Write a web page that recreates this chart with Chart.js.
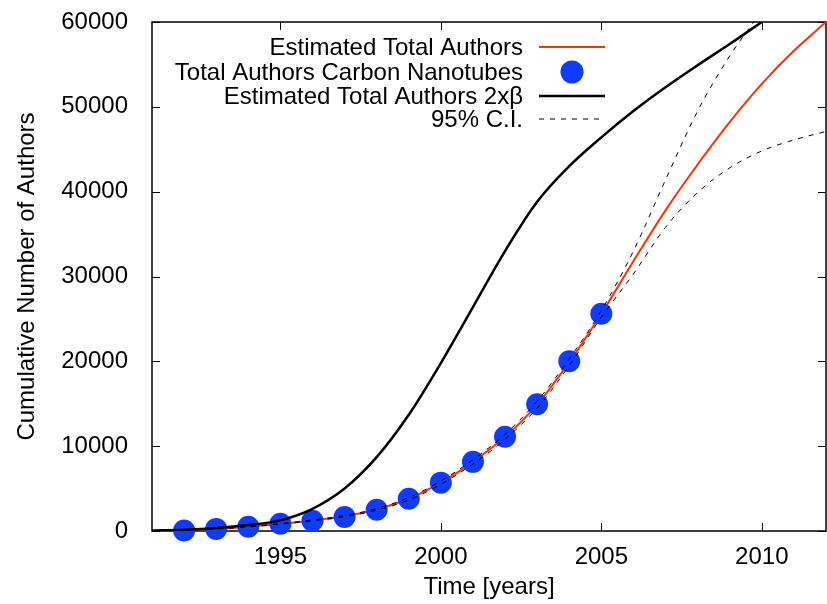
<!DOCTYPE html>
<html>
<head>
<meta charset="utf-8">
<script src="https://cdn.jsdelivr.net/npm/chart.js@4"></script>
<style>
    body { margin: 0; background: #fff; }
    #wrap { width: 827px; height: 604px; }
</style>
</head>
<body>
<div id="wrap"><canvas id="authorsChart" width="827" height="604"></canvas></div>
<script>
// observed data
const years = [1992, 1993, 1994, 1995, 1996, 1997, 1998, 1999, 2000, 2001, 2002, 2003, 2004, 2005];
const authorCounts = [50, 250, 500, 850, 1200, 1650, 2500, 3800, 5700, 8150, 11100, 14950, 20000, 25600];

// fitted curves (one value per year)
const curveYears = [1991, 1992, 1993, 1994, 1995, 1996, 1997, 1998, 1999, 2000, 2001,
                    2002, 2003, 2004, 2005, 2006, 2007, 2008, 2009, 2010, 2011, 2012];
const estimated = [0, 100, 250, 500, 850, 1250, 1750, 2550, 3800, 5700, 8150,
                   11100, 14900, 19900, 25600, 31800, 37800, 43200, 48200, 52700, 56600, 60000];
const estimated2xBeta = [50, 150, 350, 700, 1250, 2600, 5000, 8700, 13700, 19800, 26400,
                         33000, 38800, 43000, 46400, 49500, 52300, 54900, 57400, 60000];
const ciUpper = [0, 100, 260, 520, 880, 1300, 1820, 2650, 3950, 5900, 8400,
                 11400, 15300, 20300, 26000, 33000, 41400, 49500, 56000, 61300];
const ciLower = [0, 100, 240, 480, 820, 1200, 1680, 2450, 3650, 5500, 7900,
                 10800, 14500, 19500, 25200, 30300, 35800, 39900, 42800, 44800, 46100, 47100];

const xTickYears = [1995, 2000, 2005, 2010];
const yTickValues = [0, 10000, 20000, 30000, 40000, 50000, 60000];
const legendLabels = ['Estimated Total Authors', 'Total Authors Carbon Nanotubes',
                      'Estimated Total Authors 2x\u03b2', '95% C.I.'];

const RED = '#ff3000';
const BLUE = '#0f3bff';
const FONT = '"Liberation Sans", Arial, Helvetica, sans-serif';

function toPoints(xs, ys) {
    return ys.map((y, i) => ({ x: xs[i], y: y }));
}

// gnuplot style frame with inward ticks on all four sides
const framePlugin = {
    id: 'frame',
    beforeDatasetsDraw(chart) {
        const { ctx, chartArea: a, scales } = chart;
        ctx.save();
        ctx.strokeStyle = '#000';
        ctx.lineWidth = 1;
        const len = 8;
        xTickYears.forEach(v => {
            const px = Math.round(scales.x.getPixelForValue(v)) + 0.5;
            ctx.beginPath();
            ctx.moveTo(px, a.bottom); ctx.lineTo(px, a.bottom - len);
            ctx.moveTo(px, a.top); ctx.lineTo(px, a.top + len);
            ctx.stroke();
        });
        yTickValues.forEach(v => {
            const py = Math.round(scales.y.getPixelForValue(v)) + 0.5;
            ctx.beginPath();
            ctx.moveTo(a.left, py); ctx.lineTo(a.left + len, py);
            ctx.moveTo(a.right, py); ctx.lineTo(a.right - len, py);
            ctx.stroke();
        });
        ctx.lineWidth = 1.5;
        ctx.strokeRect(a.left, a.top, a.right - a.left, a.bottom - a.top);
        ctx.restore();
    }
};

// key in the upper right: text right aligned, sample to its right
const keyPlugin = {
    id: 'key',
    afterDatasetsDraw(chart) {
        const ctx = chart.ctx;
        const textRight = 523;
        const x1 = 539, x2 = 605;
        const rows = [47, 72, 96, 119];
        ctx.save();
        ctx.font = '24px ' + FONT;
        ctx.fillStyle = '#000';
        ctx.textAlign = 'right';
        ctx.textBaseline = 'middle';
        legendLabels.forEach((t, i) => ctx.fillText(t, textRight, rows[i] + 1));

        ctx.lineWidth = 2;
        ctx.strokeStyle = RED;
        ctx.beginPath(); ctx.moveTo(x1, rows[0]); ctx.lineTo(x2, rows[0]); ctx.stroke();

        ctx.fillStyle = BLUE;
        ctx.beginPath(); ctx.arc((x1 + x2) / 2, rows[1], 11.5, 0, Math.PI * 2); ctx.fill();

        ctx.lineWidth = 2.5;
        ctx.strokeStyle = '#000';
        ctx.beginPath(); ctx.moveTo(x1, rows[2]); ctx.lineTo(x2, rows[2]); ctx.stroke();

        ctx.lineWidth = 1;
        ctx.setLineDash([5, 6]);
        ctx.beginPath(); ctx.moveTo(x1, rows[3]); ctx.lineTo(x2, rows[3]); ctx.stroke();
        ctx.restore();
    }
};

const lineDefaults = {
    type: 'line',
    pointRadius: 0,
    fill: false,
    cubicInterpolationMode: 'monotone'
};

new Chart(document.getElementById('authorsChart'), {
    type: 'scatter',
    data: {
        datasets: [
            Object.assign({}, lineDefaults, {
                label: legendLabels[0],
                data: toPoints(curveYears, estimated),
                borderColor: RED,
                borderWidth: 2,
                order: 4
            }),
            {
                label: legendLabels[1],
                data: toPoints(years, authorCounts),
                backgroundColor: BLUE,
                borderWidth: 0,
                pointRadius: 11,
                clip: false,
                order: 3
            },
            Object.assign({}, lineDefaults, {
                label: legendLabels[2],
                data: toPoints(curveYears, estimated2xBeta),
                borderColor: '#000',
                borderWidth: 2.5,
                order: 2
            }),
            Object.assign({}, lineDefaults, {
                label: legendLabels[3],
                data: toPoints(curveYears, ciUpper),
                borderColor: '#000',
                borderWidth: 1,
                borderDash: [5, 6],
                order: 1
            }),
            Object.assign({}, lineDefaults, {
                label: legendLabels[3] + ' lower',
                data: toPoints(curveYears, ciLower),
                borderColor: '#000',
                borderWidth: 1,
                borderDash: [5, 6],
                order: 1
            })
        ]
    },
    options: {
        responsive: false,
        animation: false,
        layout: {
            autoPadding: false,
            padding: { top: 22, right: 1, left: 0, bottom: 0 }
        },
        plugins: {
            legend: { display: false },
            tooltip: { enabled: false }
        },
        scales: {
            x: {
                type: 'linear',
                min: 1991,
                max: 2012,
                grid: { display: false },
                border: { display: false },
                afterBuildTicks: s => { s.ticks = xTickYears.map(v => ({ value: v })); },
                afterFit: s => {
                    s.height = 73;
                    s.paddingLeft = 0;
                    s.paddingRight = 0;
                },
                ticks: {
                    color: '#000',
                    padding: 4,
                    maxRotation: 0,
                    font: { family: FONT, size: 24 },
                    callback: v => String(v)
                },
                title: {
                    display: true,
                    text: 'Time [years]',
                    color: '#000',
                    padding: { top: 0, bottom: 2 },
                    font: { family: FONT, size: 24 }
                }
            },
            y: {
                min: 0,
                max: 60000,
                grid: { display: false },
                border: { display: false },
                afterBuildTicks: s => { s.ticks = yTickValues.map(v => ({ value: v })); },
                afterFit: s => {
                    s.width = 152;
                    s.paddingTop = 0;
                    s.paddingBottom = 0;
                },
                ticks: {
                    color: '#000',
                    padding: 16,
                    font: { family: FONT, size: 24 },
                    callback: v => String(v)
                },
                title: {
                    display: true,
                    text: 'Cumulative Number of Authors',
                    color: '#000',
                    padding: { top: 13, bottom: 0 },
                    font: { family: FONT, size: 24 }
                }
            }
        }
    },
    plugins: [framePlugin, keyPlugin]
});
</script>
</body>
</html>
